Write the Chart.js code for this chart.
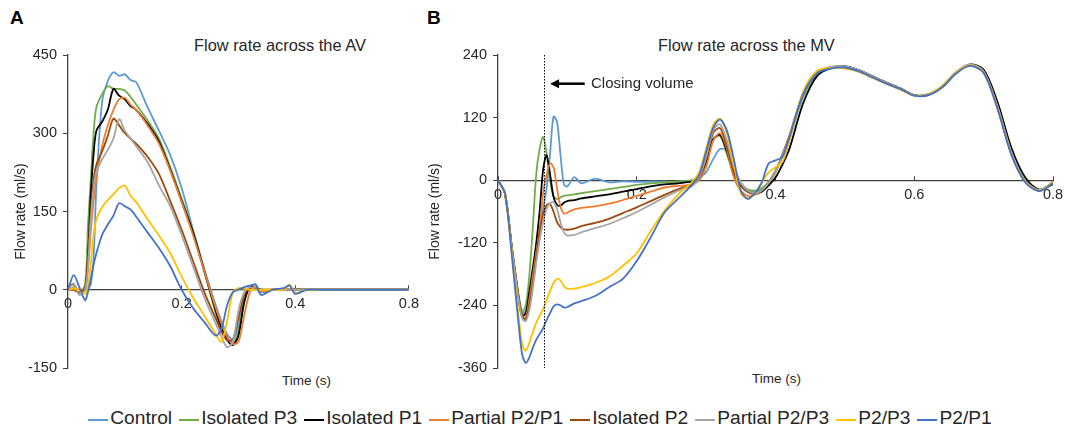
<!DOCTYPE html>
<html>
<head>
<meta charset="utf-8">
<script src="https://cdn.jsdelivr.net/npm/chart.js@4.4.0/dist/chart.umd.min.js"></script>
<style>
  body { margin: 0; width: 1075px; height: 431px; background: #fff; position: relative; overflow: hidden;
         font-family: "Liberation Sans", Arial, sans-serif; color: #262626; }
  canvas { position: absolute; top: 0; }
  .txt { position: absolute; white-space: nowrap; line-height: 1; }
  .panel { font-weight: bold; font-size: 19px; color: #000; }
  .ttl { font-size: 16.4px; }
  .xt { font-size: 13.5px; }
  #legend { position: absolute; left: 6px; width: 1075px; top: 408px; display: flex; justify-content: center;
            font-size: 19.2px; line-height: 19px; }
  #legend .item { display: flex; align-items: center; margin-right: 7px; }
  #legend .sw { width: 20px; height: 2px; margin-right: 2px; position: relative; top: 2px; }
</style>
</head>
<body>
<div class="txt panel" style="left:10px; top:8px;">A</div>
<div class="txt panel" style="left:427px; top:8px;">B</div>
<div class="txt ttl" style="left:194px; top:37px;">Flow rate across the AV</div>
<div class="txt ttl" style="left:658px; top:37px;">Flow rate across the MV</div>
<div class="txt xt" style="left:282px; top:374px;">Time (s)</div>
<div class="txt xt" style="left:752px; top:372px;">Time (s)</div>
<canvas id="av" width="430" height="395" style="left:0px"></canvas>
<canvas id="mv" width="650" height="395" style="left:425px"></canvas>
<div id="legend"></div>
<script>
const seriesNames = ['Control', 'Isolated P3', 'Isolated P1', 'Partial P2/P1', 'Isolated P2', 'Partial P2/P3', 'P2/P3', 'P2/P1'];
const seriesColors = ['#5B9BD5', '#70AD47', '#000000', '#ED7D31', '#9E480E', '#A5A5A5', '#FFC000', '#4472C4'];

// A: flow rate across the AV (ml/s)
const avTime = [0, 0.01, 0.02, 0.03, 0.035, 0.04, 0.045, 0.05, 0.06, 0.07, 0.08, 0.09, 0.10, 0.11, 0.12, 0.14, 0.16, 0.18, 0.20,
  0.22, 0.24, 0.26, 0.27, 0.28, 0.29, 0.30, 0.31, 0.32, 0.33, 0.34, 0.36, 0.38, 0.39, 0.40, 0.42, 0.45, 0.50, 0.60];
const avControl = [0, 5, -3, 0, 2, 10, 60, 200, 360, 400, 417, 410, 413, 402, 398, 350, 305, 258, 195, 115, 40, -30, -60, -85, -95, -70, -15, 5, 10, -5, 0, 0, 0, 2, 0, 0, 0, 0];
const avIsoP3 = [0, 3, -5, 10, 120, 210, 300, 350, 375, 390, 385, 385, 382, 370, 355, 325, 290, 235, 175, 112, 35, -45, -75, -95, -100, -80, -20, 5, 3, 0, 0, 0, 0, 0, 0, 0, 0, 0];
const avIsoP1 = [0, 0, -5, 0, 60, 180, 260, 305, 322, 345, 385, 372, 365, 352, 345, 318, 284, 230, 170, 110, 35, -40, -72, -96, -106, -88, -25, 5, 3, 0, 0, 0, 0, 0, 0, 0, 0, 0];
const avPartP2P1 = [0, 0, 0, 0, 40, 110, 170, 215, 275, 315, 345, 365, 368, 355, 345, 315, 280, 228, 168, 105, 35, -35, -65, -90, -104, -100, -50, -5, 5, -3, 0, 0, 0, 0, 0, 0, 0, 0];
const avIsoP2 = [5, 10, -5, 5, 60, 150, 210, 240, 265, 295, 328, 315, 300, 290, 280, 255, 222, 170, 115, 55, -5, -55, -80, -97, -95, -55, -10, 3, 0, 0, 0, 0, 0, 0, 0, 0, 0, 0];
const avPartP2P3 = [5, 12, -10, 0, 40, 130, 195, 225, 250, 268, 290, 327, 305, 290, 275, 245, 200, 160, 105, 45, -15, -65, -90, -110, -100, -40, -5, 5, 0, 0, 0, 0, 0, 0, 0, 0, 0, 0];
const avP2P3 = [0, 3, -2, -8, 5, 50, 105, 135, 158, 172, 183, 195, 200, 180, 168, 135, 104, 70, 25, -15, -50, -85, -100, -60, -5, 3, 2, 0, 0, 0, 0, 0, 10, -6, 0, 0, 0, 0];
const avP2P1 = [0, 28, 5, -20, -5, 20, 48, 70, 105, 125, 142, 166, 160, 154, 140, 110, 80, 45, 0, -35, -62, -88, -75, -30, -5, 0, 5, 8, 10, -10, 0, 3, 8, -8, 0, 0, 0, 0];
const avTickLabels = ['0', '0.2', '0.4', '0.8'];

// B: flow rate across the MV (ml/s)
const mvTime = [0, 0.01, 0.02, 0.03, 0.035, 0.04, 0.045, 0.05, 0.055, 0.06, 0.065, 0.07, 0.075, 0.08, 0.085, 0.09, 0.095, 0.10, 0.11, 0.12,
  0.14, 0.16, 0.18, 0.20, 0.22, 0.24, 0.26, 0.27, 0.28, 0.29, 0.30, 0.31, 0.32, 0.33, 0.34, 0.35, 0.36, 0.37, 0.38, 0.39, 0.40, 0.41, 0.42,
  0.44, 0.46, 0.48, 0.50, 0.52, 0.54, 0.56, 0.58, 0.60, 0.62, 0.64, 0.66, 0.68, 0.70, 0.72, 0.74, 0.76, 0.78, 0.80];
const mvControl = [0, -25, -130, -225, -255, -252, -222, -178, -132, -95, -55, -15, 50, 122, 112, 50, -8, -12, 6, -6,
  3, -4, -2, -3, -3, -3, -3, -2, 0, 5, 15, 40, 60, 56, 25, -5, -18, -22, -18, -5, 18, 48, 82,
  165, 206, 217, 217, 210, 198, 186, 175, 163, 165, 180, 206, 220, 206, 138, 50, -3, -20, -6];
const mvIsoP3 = [0, -25, -128, -222, -252, -240, -185, -95, 10, 60, 83, 52, 0, -30, -36, -33, -30, -29, -27, -25,
  -21, -17, -13, -9, -6, -4, -3, -2, 0, 8, 35, 78, 85, 50, 10, -10, -18, -20, -15, -3, 18, 45, 78,
  160, 203, 216, 218, 211, 199, 187, 176, 163, 164, 179, 206, 221, 209, 141, 53, -1, -20, -5];
const mvIsoP1 = [0, -25, -130, -228, -260, -255, -215, -170, -122, -60, 20, 48, 12, -32, -47, -49, -43, -40, -38, -35,
  -31, -27, -22, -17, -12, -8, -6, -4, -3, 5, 35, 78, 87, 55, 15, -10, -22, -26, -22, -10, 5, 30, 60,
  148, 200, 215, 218, 211, 199, 187, 176, 163, 163, 178, 205, 222, 212, 150, 62, 5, -18, -8];
const mvPartP2P1 = [0, -25, -130, -230, -262, -264, -230, -185, -140, -95, -25, 10, 32, 25, -15, -50, -64, -62, -56, -53,
  -50, -45, -38, -30, -22, -14, -11, -10, -8, 0, 25, 75, 90, 60, 5, -20, -30, -28, -20, -5, 15, 48, 82,
  165, 205, 216, 216, 208, 197, 185, 174, 162, 164, 180, 207, 221, 207, 138, 50, -3, -20, -3];
const mvIsoP2 = [0, -25, -130, -230, -262, -266, -240, -200, -150, -100, -65, -48, -46, -60, -80, -90, -94, -95, -93, -88,
  -82, -74, -63, -52, -40, -28, -17, -13, -9, 3, 40, 90, 100, 65, 15, -10, -22, -25, -20, -6, 15, 50, 85,
  168, 206, 216, 217, 209, 198, 186, 175, 163, 164, 179, 206, 221, 208, 140, 52, -2, -20, -5];
const mvPartP2P3 = [0, -25, -132, -232, -265, -270, -250, -210, -160, -115, -80, -55, -44, -42, -55, -80, -100, -106, -105, -100,
  -92, -84, -73, -61, -47, -33, -20, -15, -11, 5, 45, 95, 107, 75, 25, -5, -20, -25, -20, -5, 15, 48, 82,
  166, 206, 217, 218, 211, 199, 187, 176, 163, 164, 180, 207, 222, 209, 142, 54, -1, -19, -5];
const mvP2P3 = [0, -25, -140, -265, -315, -327, -312, -292, -274, -260, -247, -230, -212, -197, -189, -192, -203, -208, -208, -205,
  -197, -185, -164, -140, -98, -58, -27, -15, -3, 15, 60, 105, 118, 90, 30, -25, -35, -25, -5, 15, 25, 35, 75,
  170, 210, 215, 214, 208, 196, 185, 174, 162, 164, 180, 206, 220, 207, 139, 51, -2, -20, -5];
const mvP2P1 = [0, -25, -145, -280, -335, -350, -340, -322, -306, -295, -284, -268, -255, -242, -238, -240, -244, -243, -236, -232,
  -222, -205, -189, -155, -110, -62, -35, -22, -8, 10, 55, 100, 116, 95, 40, -20, -36, -25, -5, 32, 38, 45, 82,
  165, 205, 214, 216, 209, 197, 185, 175, 162, 163, 178, 204, 219, 206, 137, 49, -4, -21, -6];
const mvTickLabels = ['0', '0.2', '0.4', '0.6', '0.8'];

// closing volume marker (time of the dotted line, arrow and label position in data units)
const closingT = 0.066;
const arrowHeadT = 0.075, arrowTailT = 0.125, arrowV = 185, closingLabelT = 0.134;

const avSeries = [avControl, avIsoP3, avIsoP1, avPartP2P1, avIsoP2, avPartP2P3, avP2P3, avP2P1];
const mvSeries = [mvControl, mvIsoP3, mvIsoP1, mvPartP2P1, mvIsoP2, mvPartP2P3, mvP2P3, mvP2P1];

Chart.defaults.font.family = "'Liberation Sans', Arial, sans-serif";
Chart.defaults.color = '#262626';

function makeSets(time, series) {
  return series.map((vals, i) => ({
    label: seriesNames[i],
    data: time.map((t, j) => ({ x: t, y: vals[j] })),
    borderColor: seriesColors[i],
    borderWidth: 1.8,
    pointRadius: 0,
    tension: 0.3,
    fill: false,
    order: series.length - i
  }));
}

const closingPlugin = {
  id: 'closingVolume',
  afterDatasetsDraw(chart) {
    const { ctx, chartArea, scales: { x, y } } = chart;
    const px = Math.round(x.getPixelForValue(closingT)) + 0.5;
    ctx.save();
    ctx.strokeStyle = '#000';
    ctx.fillStyle = '#000';
    ctx.lineWidth = 1;
    ctx.setLineDash([1.5, 1.5]);
    ctx.beginPath();
    ctx.moveTo(px, chartArea.top);
    ctx.lineTo(px, chartArea.bottom);
    ctx.stroke();
    ctx.setLineDash([]);
    const ay = y.getPixelForValue(arrowV);
    const head = x.getPixelForValue(arrowHeadT);
    const tail = x.getPixelForValue(arrowTailT);
    ctx.lineWidth = 2.5;
    ctx.beginPath();
    ctx.moveTo(tail, ay);
    ctx.lineTo(head + 6, ay);
    ctx.stroke();
    ctx.beginPath();
    ctx.moveTo(head, ay);
    ctx.lineTo(head + 9, ay - 4.5);
    ctx.lineTo(head + 9, ay + 4.5);
    ctx.closePath();
    ctx.fill();
    ctx.font = "15px 'Liberation Sans', Arial, sans-serif";
    ctx.fillStyle = '#262626';
    ctx.textBaseline = 'middle';
    ctx.fillText('Closing volume', x.getPixelForValue(closingLabelT), ay);
    ctx.restore();
  }
};

function flowChart(id, time, series, xMax, xLabels, yMin, yMax, yStep, axisWidth, titlePad, padRight, plugins) {
  return new Chart(document.getElementById(id), {
    type: 'line',
    data: { datasets: makeSets(time, series) },
    plugins: plugins,
    options: {
      responsive: false,
      animation: false,
      devicePixelRatio: 1,
      layout: { padding: { left: 0, right: padRight, top: 55, bottom: 27 } },
      plugins: { legend: { display: false }, tooltip: { enabled: false } },
      scales: {
        x: {
          type: 'linear',
          position: { y: 0 },
          min: 0,
          max: xMax,
          afterFit: (s) => { s.height = 0; },
          grid: { drawOnChartArea: false, tickLength: -5, color: '#404040' },
          border: { color: '#404040', width: 1.3 },
          ticks: {
            stepSize: 0.2,
            padding: 11,
            maxRotation: 0,
            font: { size: 14.5 },
            callback: (v, i) => xLabels[i]
          }
        },
        y: {
          min: yMin,
          max: yMax,
          afterFit: (s) => { s.width = axisWidth; },
          grid: { drawOnChartArea: false, tickLength: 5, color: '#404040' },
          border: { color: '#404040', width: 1.3 },
          ticks: { stepSize: yStep, padding: 6, font: { size: 14.5 } },
          title: { display: true, text: 'Flow rate (ml/s)', font: { size: 14 }, padding: { top: titlePad, bottom: 0 } }
        }
      }
    }
  });
}

flowChart('av', avTime, avSeries, 0.6, avTickLabels, -150, 450, 150, 68, 13, 12, []);
flowChart('mv', mvTime, mvSeries, 0.8, mvTickLabels, -360, 240, 120, 73, 2, 22, [closingPlugin]);

// shared legend under both panels
const legend = document.getElementById('legend');
seriesNames.forEach((name, i) => {
  const item = document.createElement('div');
  item.className = 'item';
  const sw = document.createElement('span');
  sw.className = 'sw';
  sw.style.background = seriesColors[i];
  const label = document.createElement('span');
  label.textContent = name;
  item.appendChild(sw);
  item.appendChild(label);
  legend.appendChild(item);
});
</script>
</body>
</html>
